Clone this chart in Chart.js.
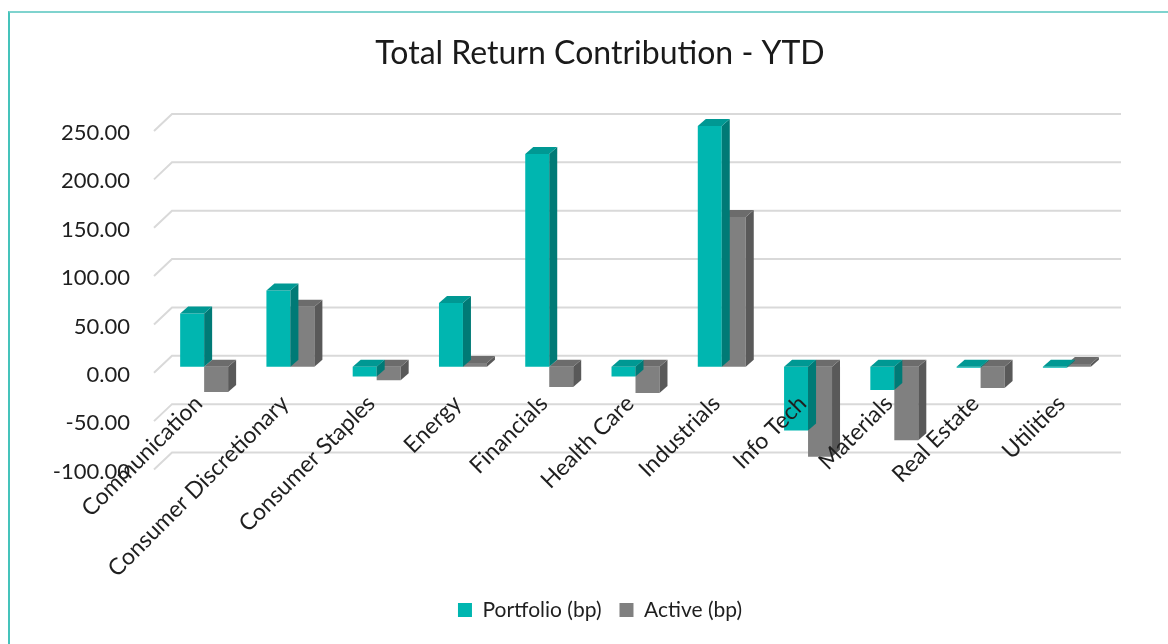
<!DOCTYPE html>
<html>
<head>
<meta charset="utf-8">
<script src="https://cdn.jsdelivr.net/npm/chart.js@4"></script>
<style>
  html, body { margin: 0; padding: 0; background: #fff; }
  #wrap { position: relative; width: 1168px; height: 644px; }
  #frame { position: absolute; left: 8px; top: 11px; right: 0; bottom: 0;
           border-left: 2px solid #45c3bb; border-top: 2px solid #7fd3ce; }
  #box { position: absolute; left: 0; top: 0; width: 1168px; height: 644px; }
</style>
</head>
<body>
<div id="wrap">
  <div id="frame"></div>
  <div id="box"><canvas id="tr_contrib"></canvas></div>
</div>
<script>
// Data
const sectors = ["Communication", "Consumer Discretionary", "Consumer Staples", "Energy", "Financials",
                 "Health Care", "Industrials", "Info Tech", "Materials", "Real Estate", "Utilities"];
const portfolioBp = [55, 79, -10, 66, 220, -10, 249, -66, -24, -1, -1];
const activeBp = [-26, 62, -14, 4, -21, -27, 155, -93, -76, -22, 3];
const yTicks = [-100, -50, 0, 50, 100, 150, 200, 250];

// colours: front, side, top
const faces = [
    ["#00b6b0", "#007a76", "#009893"],
    ["#808080", "#595959", "#6c6c6c"],
];
const barDepth = { dx: 8, dy: 7 };
const wallBack = { dx: 11, dy: -11 };
const wallFront = { dx: -7, dy: 6 };

function poly(ctx, pts) {
    ctx.beginPath();
    ctx.moveTo(pts[0][0], pts[0][1]);
    for (let i = 1; i < pts.length; i++) ctx.lineTo(pts[i][0], pts[i][1]);
    ctx.closePath();
    ctx.fill();
}

// fake 3D look: back wall lines + side/top faces of bars
const fake3d = {
    id: "fake3d",
    beforeDatasetsDraw(chart) {
        const { ctx, chartArea: a, scales: { y } } = chart;
        ctx.save();
        ctx.strokeStyle = "#d9d9d9";
        ctx.lineWidth = 2;
        yTicks.forEach(v => {
            const py = y.getPixelForValue(v);
            ctx.beginPath();
            ctx.moveTo(a.left + wallFront.dx, py + wallFront.dy);
            ctx.lineTo(a.left + wallBack.dx, py + wallBack.dy);
            ctx.lineTo(a.right + wallBack.dx, py + wallBack.dy);
            ctx.stroke();
        });
        ctx.restore();
    },
    afterDatasetDraw(chart, args) {
        const ctx = chart.ctx;
        const c = faces[args.index];
        ctx.save();
        args.meta.data.forEach(bar => {
            const p = bar.getProps(["x", "y", "base", "width"], true);
            const l = p.x - p.width / 2, r = p.x + p.width / 2;
            const top = Math.min(p.y, p.base), bot = Math.max(p.y, p.base);
            ctx.fillStyle = c[1];
            poly(ctx, [[r, top], [r + barDepth.dx, top - barDepth.dy], [r + barDepth.dx, bot - barDepth.dy], [r, bot]]);
            ctx.fillStyle = c[2];
            poly(ctx, [[l, top], [l + barDepth.dx, top - barDepth.dy], [r + barDepth.dx, top - barDepth.dy], [r, top]]);
        });
        ctx.restore();
    },
};

const el = document.getElementById("tr_contrib");
const chart = new Chart(el, {
    type: "bar",
    data: {
        labels: sectors,
        datasets: [
        {
            label: "Portfolio (bp)",
            data: portfolioBp,
            backgroundColor: faces[0][0],
            borderWidth: 0,
        },
        {
            label: "Active (bp)",
            data: activeBp,
            backgroundColor: faces[1][0],
            borderWidth: 0,
        },
        ],
    },
    options: {
        responsive: true,
        maintainAspectRatio: false,
        animation: false,
        barPercentage: 1,
        categoryPercentage: 0.556,
        layout: {
            padding: { left: 32, right: 0, top: 0, bottom: 13.5 },
        },
        scales: {
        x: {
            grid: { display: false, drawTicks: false },
            border: { display: false },
            ticks: {
                z: 1,   // labels go over the bars
                // mirror + padding pulls the labels up under the bars (no clipping)
                mirror: true,
                minRotation: 45,
                maxRotation: 45,
                autoSkip: false,
                padding: 54,
                labelOffset: 14,
                color: "#1f1f1f",
                font: { family: "Lato", size: 23 },
            },
            afterFit(scale) { scale.height = 118; },
        },
        y: {
            min: -100,
            max: 250,
            afterBuildTicks(scale) { scale.ticks = yTicks.map(v => ({ value: v })); },
            grid: { display: false, drawTicks: false },
            border: { display: false },
            ticks: {
                padding: 31,
                labelOffset: 8,
                color: "#1f1f1f",
                font: { family: "Lato", size: 22 },
                callback: v => v.toFixed(2),
            },
            afterFit(scale) { scale.width = 129; },
        },
        // empty right margin
        yRight: {
            position: "right",
            display: true,
            grid: { display: false, drawTicks: false },
            border: { display: false },
            ticks: { display: false },
            afterFit(scale) { scale.width = 58; },
        },
        },
        plugins: {
        title: {
            display: true,
            text: "Total Return Contribution - YTD",
            color: "#1a1a1a",
            font: { family: "Lato", size: 32, weight: "normal" },
            padding: { top: 34, bottom: 52.6 },
        },
        legend: {
            position: "bottom",
            labels: {
                boxWidth: 14,
                boxHeight: 14,
                padding: 18,
                color: "#1f1f1f",
                font: { family: "Lato", size: 21 },
            },
        },
        tooltip: { enabled: false },
        },
    },
    plugins: [fake3d],
});
</script>
</body>
</html>
